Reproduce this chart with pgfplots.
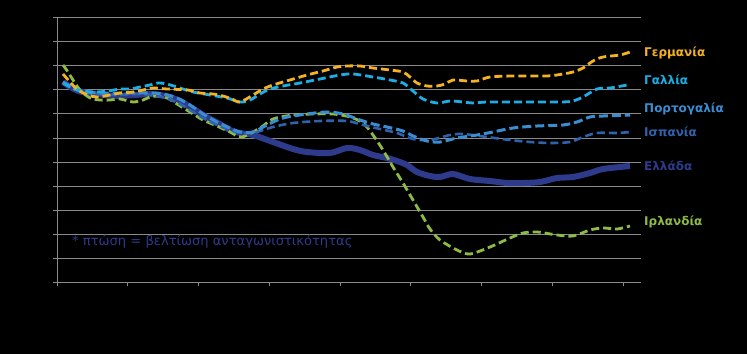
\documentclass[border=0pt]{standalone}
\usepackage{pgfplots}
\pgfplotsset{compat=1.18}
\usepackage{fontspec}
\setmainfont{DejaVu Sans}
\definecolor{cDE}{HTML}{F4B223}
\definecolor{cFR}{HTML}{1DADE5}
\definecolor{cPT}{HTML}{3A8DD2}
\definecolor{cES}{HTML}{2F62AC}
\definecolor{cGR}{HTML}{2E3A8C}
\definecolor{cIE}{HTML}{8DBB45}
\definecolor{cgrid}{HTML}{8A8A8A}
\begin{document}
\begin{tikzpicture}[x=1pt,y=1pt]
\fill[black] (0,0) rectangle (747,354);
\begin{axis}[
  at={(57pt,72pt)}, anchor=south west,
  scale only axis, width=584pt, height=265pt,
  xmin=57, xmax=641, ymin=-282, ymax=-17,
  axis background/.style={fill=black},
  axis line style={cgrid},
  axis x line*=bottom, axis y line*=left,
  xtick={57,127.75,198.5,269.25,340,410.75,481.5,552.25,623},
  ytick={-282,-258,-234,-210,-186,-162,-138,-113.7,-89.7,-65.7,-41,-17},
  xticklabels={}, yticklabels={},
  tick align=outside, major tick length=4pt,
  tick style={cgrid, line width=0.6pt},
  ymajorgrids, grid style={cgrid, line width=0.8pt},
  clip=false,
  every axis plot/.append style={smooth, tension=0.5, no marks},
]
\addplot[cGR, line width=6pt] coordinates {(63,-82)(72,-88)(82,-92)(97,-94)(115,-96)(135,-95)(150,-94)(160,-95)(170,-97)(180,-101)(192,-108)(205,-116)(218,-123)(230,-130)(240,-133)(253,-135)(273,-142)(293,-149)(307,-152)(330,-153)(347,-148)(360,-150)(373,-155)(387,-158)(397,-161)(407,-165)(417,-172)(430,-176)(440,-177)(453,-174)(470,-179)(490,-181)(507,-183)(523,-183)(540,-182)(557,-178)(573,-177)(590,-173)(603,-169)(630,-166)};
\addplot[cIE, line width=2.8pt, dash pattern=on 8pt off 4pt] coordinates {(63,-65)(68,-72)(73,-80)(80,-90)(90,-98)(100,-100)(110,-100)(120,-99)(133,-102)(143,-100)(150,-97)(157,-96)(167,-98)(177,-104)(190,-112)(203,-120)(217,-126)(230,-132)(242,-137)(260,-128)(273,-119)(293,-115)(313,-114)(333,-114)(350,-117)(363,-123)(373,-135)(383,-150)(393,-167)(403,-183)(413,-200)(423,-217)(430,-229)(440,-240)(457,-250)(470,-254)(490,-247)(510,-238)(523,-233)(537,-232)(557,-235)(573,-236)(590,-230)(603,-228)(617,-229)(630,-226)};
\addplot[cES, line width=2.6pt, dash pattern=on 8pt off 4pt] coordinates {(63,-82)(72,-88)(82,-92)(97,-94)(115,-95)(135,-94)(152,-95)(165,-98)(178,-103)(190,-110)(203,-118)(217,-125)(230,-130)(240,-133)(253,-133)(273,-127)(293,-123)(320,-121)(347,-121)(363,-125)(380,-129)(397,-133)(413,-139)(430,-140)(450,-135)(463,-134)(487,-137)(510,-140)(530,-142)(550,-143)(570,-142)(583,-137)(597,-133)(617,-133)(630,-132)};
\addplot[cPT, line width=3pt, dash pattern=on 9pt off 4pt] coordinates {(63,-82)(72,-87)(80,-91)(97,-93)(110,-93)(130,-93)(150,-93)(163,-94)(177,-98)(190,-105)(203,-114)(217,-122)(230,-128)(240,-132)(253,-132)(267,-125)(283,-118)(307,-114)(327,-112)(343,-114)(360,-120)(373,-124)(387,-127)(403,-131)(413,-136)(427,-141)(440,-142)(457,-138)(477,-135)(493,-132)(513,-128)(537,-126)(563,-125)(577,-122)(590,-117)(603,-116)(630,-115)};
\addplot[cFR, line width=2.8pt, dash pattern=on 8pt off 4pt] coordinates {(63,-83)(72,-88)(82,-91)(95,-92)(108,-91)(120,-89)(130,-89)(140,-87)(150,-85)(158,-83)(167,-84)(183,-89)(193,-92)(210,-95)(227,-98)(240,-102)(250,-100)(260,-94)(270,-89)(283,-86)(300,-83)(320,-79)(340,-75)(353,-74)(373,-77)(390,-80)(403,-83)(413,-91)(423,-99)(437,-103)(450,-101)(463,-102)(473,-103)(487,-102)(513,-102)(547,-102)(563,-102)(573,-101)(583,-97)(597,-89)(610,-88)(627,-85)};
\addplot[cDE, line width=2.8pt, dash pattern=on 8pt off 4pt] coordinates {(63,-74)(70,-82)(78,-90)(88,-95)(97,-97)(110,-95)(120,-93)(133,-92)(143,-90)(153,-88)(167,-89)(188,-90)(200,-93)(213,-94)(223,-96)(232,-99)(240,-102)(253,-95)(263,-89)(273,-85)(290,-80)(307,-75)(323,-71)(337,-67)(347,-66)(360,-66)(373,-68)(390,-70)(403,-72)(410,-77)(417,-83)(427,-86)(437,-86)(445,-84)(453,-80)(467,-81)(477,-81)(490,-77)(513,-76)(547,-76)(563,-74)(573,-72)(583,-68)(593,-61)(603,-57)(620,-55)(630,-52)};
\begin{scope}[font=\fontsize{12}{14}\selectfont\bfseries]
\node[anchor=west, text=cDE, inner sep=0pt] at (axis cs:644,-53) {Γερμανία};
\node[anchor=west, text=cFR, inner sep=0pt] at (axis cs:644,-80) {Γαλλία};
\node[anchor=west, text=cPT, inner sep=0pt] at (axis cs:644,-109) {Πορτογαλία};
\node[anchor=west, text=cES, inner sep=0pt] at (axis cs:644,-132) {Ισπανία};
\node[anchor=west, text=cGR, inner sep=0pt] at (axis cs:644,-166) {Ελλάδα};
\node[anchor=west, text=cIE, inner sep=0pt] at (axis cs:644,-222) {Ιρλανδία};
\end{scope}
\node[anchor=west, text=cGR, inner sep=0pt, font=\fontsize{13.1}{15}\selectfont] at (axis cs:72,-242) {* πτώση = βελτίωση ανταγωνιστικότητας};
\end{axis}
\end{tikzpicture}
\end{document}
